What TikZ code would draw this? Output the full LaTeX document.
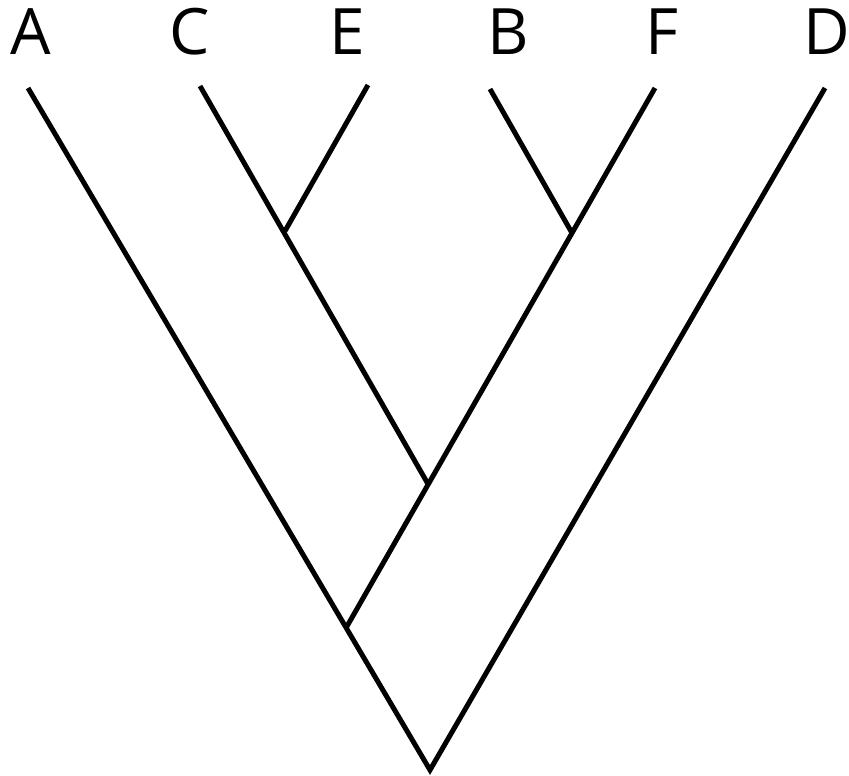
\documentclass[tikz,border=0pt]{standalone}
\usepackage{fontspec}
\setmainfont{Open Sans}
\begin{document}
\begin{tikzpicture}[x=1pt,y=-1pt,
  branch/.style={line width=5pt,black},
  leaflabel/.style={anchor=base,inner sep=0pt,font=\fontsize{64}{64}\selectfont}]
\useasboundingbox (0,0) rectangle (849,776);
% leaf tips
\coordinate (tA) at (28,88);
\coordinate (tC) at (200,86);
\coordinate (tE) at (368,85);
\coordinate (tB) at (490,89);
\coordinate (tF) at (655,88);
\coordinate (tD) at (825,88);
% internal nodes
\coordinate (ce) at (285,231);
\coordinate (bf) at (572,233);
\coordinate (cebf) at (428,484);
\coordinate (x) at (346,628);
\coordinate (root) at (430,770);
% labels
\node[leaflabel] (lA) at (31,55) {A};
\node[leaflabel] (lC) at (190,55) {C};
\node[leaflabel] (lE) at (347,55) {E};
\node[leaflabel] (lB) at (508,55) {B};
\node[leaflabel] (lF) at (662,55) {F};
\node[leaflabel] (lD) at (827,55) {D};
% branches
\draw[branch] (tA) -- (root) -- (tD);
\draw[branch] (tF) -- (x);
\draw[branch] (tC) -- (cebf);
\draw[branch] (tE) -- (ce);
\draw[branch] (tB) -- (bf);
\end{tikzpicture}
\end{document}
